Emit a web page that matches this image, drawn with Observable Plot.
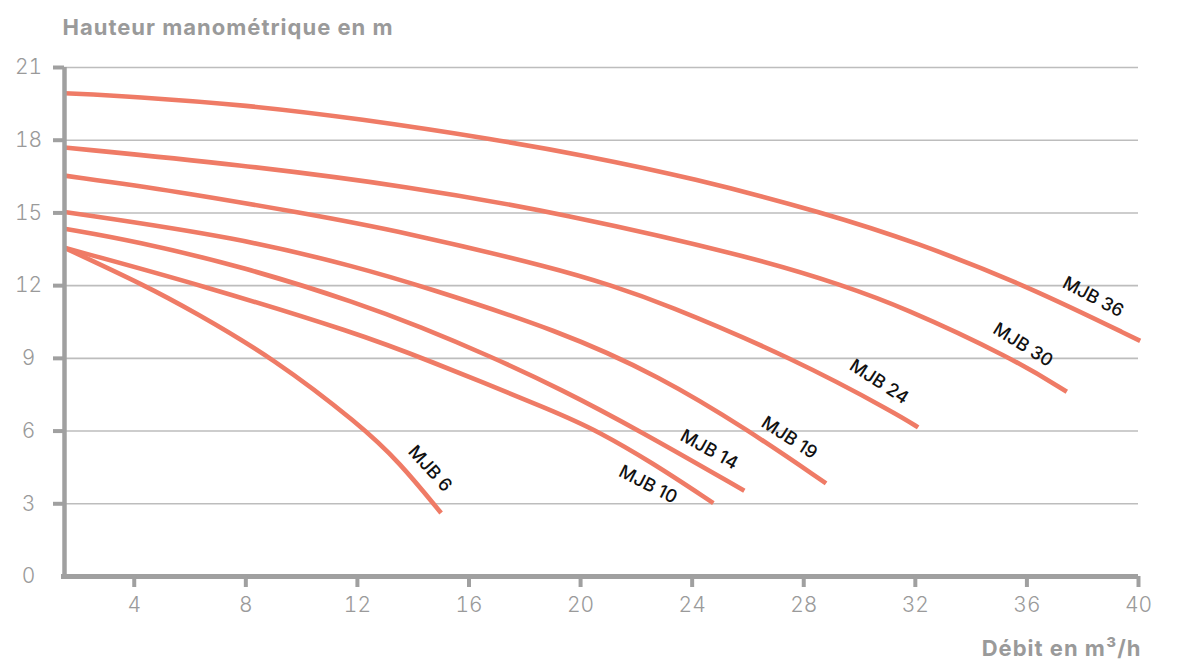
<!DOCTYPE html>
<html>
<head>
<meta charset="utf-8">
<script src="https://cdn.jsdelivr.net/npm/d3@7"></script>
<script src="https://cdn.jsdelivr.net/npm/@observablehq/plot@0.6"></script>
<style>
  html, body { margin: 0; padding: 0; background: #ffffff; }
  #chart svg { display: block; }
  #chart svg g[font-weight="700"] text { letter-spacing: 1px; }
</style>
</head>
<body>
<div id="chart"></div>
<script>
// ---- Data ----
const xTicks = [4, 8, 12, 16, 20, 24, 28, 32, 36, 40];
const yTicks = [0, 3, 6, 9, 12, 15, 18, 21];
const xStart = 1.5;

const models = ["MJB 6", "MJB 10", "MJB 14", "MJB 19", "MJB 24", "MJB 30", "MJB 36"];

// [débit m³/h, hauteur m]
const mjb6  = [[1.5,13.56],[4.4,12.0],[6.1,10.95],[9.0,9.0],[12.1,6.25],[13.5,4.72],[15.0,2.62]];
const mjb10 = [[1.5,13.56],[6.47,12.0],[12.1,9.99],[14.25,9.05],[19.27,6.72],[20.6,6.0],[22.5,4.75],[24.76,3.03]];
const mjb14 = [[1.5,14.35],[4,13.85],[8,12.75],[12.1,11.25],[14.25,10.3],[16.64,9.15],[19.27,7.75],[22.14,6.0],[25.87,3.54]];
const mjb19 = [[1.5,15.04],[7.8,13.97],[12.1,12.73],[14.25,12.0],[19.27,10.13],[22.85,8.25],[25.96,6.08],[28.8,3.84]];
const mjb24 = [[1.5,16.54],[5.5,15.9],[10,15.0],[13.53,14.25],[19.27,12.67],[21.1,12.0],[22.85,11.33],[27.63,9.0],[31.46,6.63],[32.1,6.15]];
const mjb30 = [[1.5,17.7],[7.8,16.99],[13.9,16.08],[19.27,15.0],[26.44,13.1],[29.42,12.0],[31.46,11.16],[35.5,9.0],[37.43,7.62]];
const mjb36 = [[1.5,19.94],[4,19.8],[8,19.45],[12,18.9],[17.1,18.0],[20,17.4],[24,16.45],[28.75,15.0],[32,13.8],[36,12.0],[40.06,9.72]];

// label anchor points (data units) and text angles
const labelX     = [14.6, 22.42, 24.61, 27.48, 30.70, 35.86, 38.37];
const labelY     = [4.45, 3.79, 5.23, 5.72, 8.03, 9.55, 11.53];
const labelAngle = [48, 27, 29, 33, 33, 32, 28];

const yTitle = "Hauteur manométrique en m";
const xTitle = "Débit en m³/h";

// ---- Build tables ----
const series = [mjb6, mjb10, mjb14, mjb19, mjb24, mjb30, mjb36];
const rows = models.flatMap((m, i) => series[i].map(([x, y]) => ({model: m, x, y})));
const labels = models.map((m, i) => ({model: m, x: labelX[i], y: labelY[i], a: labelAngle[i]}));

const axisGray = "#a0a0a0";
const textGray = "#9a9a9a";
const curveColor = "#ef7b66";
const font = "Inter, Lato, 'Noto Sans', sans-serif";

const chart = Plot.plot({
  width: 1196,
  height: 672,
  marginLeft: 64,
  marginRight: 58,
  marginTop: 67,
  marginBottom: 96,
  style: {fontFamily: font, background: "#ffffff", overflow: "visible"},
  x: {domain: [xStart, 40], label: null},
  y: {domain: [0, 21], label: null},
  marks: [
    Plot.gridY(yTicks.filter(d => d > 0), {stroke: "#bdbdbd", strokeOpacity: 1, strokeWidth: 1.6}),
    Plot.line(rows, {x: "x", y: "y", z: "model", stroke: curveColor, strokeWidth: 4.6, curve: "basis", strokeLinecap: "butt"}),
    // axis lines
    Plot.ruleX([xStart], {y1: 0, y2: 21, stroke: axisGray, strokeWidth: 4.5}),
    Plot.ruleY([0], {x1: xStart, x2: 40, stroke: axisGray, strokeWidth: 5, insetLeft: -3}),
    // y tick stubs
    Plot.axisY(yTicks.filter(d => d > 0), {tickSize: 11, fill: "none", stroke: axisGray, strokeWidth: 4, label: null}),
    // y tick labels
    Plot.axisY(yTicks, {tickSize: 0, tickPadding: 36, textAnchor: "middle", fill: textGray, fontSize: 21, fontWeight: 300, label: null}),
    // x ticks and labels
    Plot.axisX(xTicks, {tickSize: 11, tickPadding: 10, stroke: axisGray, strokeWidth: 4, fill: textGray, fontSize: 21, fontWeight: 300, label: null}),
    // curve labels
    Plot.text(labels, {x: "x", y: "y", text: "model", rotate: "a", fill: "#111111", fontSize: 18, fontWeight: 500}),
    // titles
    Plot.text([yTitle], {text: d => d, frameAnchor: "top-left", dx: -2, dy: -40, textAnchor: "start", lineAnchor: "middle", fill: textGray, fontSize: 22, fontWeight: 700}),
    Plot.text([xTitle], {text: d => d, frameAnchor: "bottom-right", dx: 3, dy: 72, textAnchor: "end", lineAnchor: "middle", fill: textGray, fontSize: 22, fontWeight: 700})
  ]
});
document.getElementById("chart").appendChild(chart);
</script>
</body>
</html>
